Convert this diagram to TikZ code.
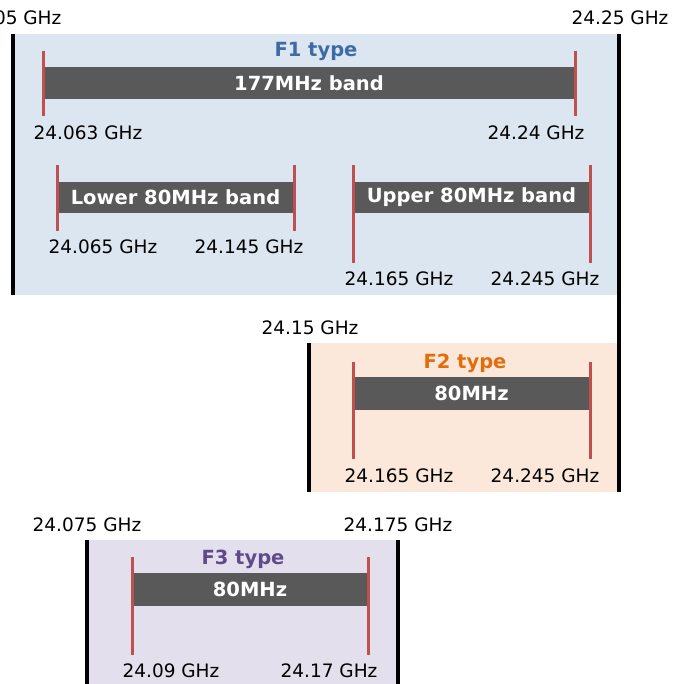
\documentclass[tikz,border=0pt]{standalone}
\usepackage{fontspec}
\setmainfont{DejaVu Sans}
\definecolor{fonebg}{HTML}{DCE6F0}
\definecolor{ftwobg}{HTML}{FCE8DB}
\definecolor{fthreebg}{HTML}{E4DFEC}
\definecolor{barcol}{HTML}{595959}
\definecolor{tickcol}{HTML}{C0504D}
\definecolor{foneti}{HTML}{3E6BA5}
\definecolor{ftwoti}{HTML}{E46C0A}
\definecolor{fthreeti}{HTML}{5F4B8B}
\begin{document}
\begin{tikzpicture}[x=1pt,y=-1pt,
  bandbar/.style={fill=barcol,text=white,inner sep=0pt,font=\fontsize{19.5}{22}\selectfont\bfseries},
  ticklin/.style={draw=tickcol,line width=3pt},
  edgelin/.style={draw=black,line width=3.5pt},
  flabel/.style={inner sep=0pt,font=\fontsize{18.5}{21}\selectfont},
  ftitle/.style={inner sep=0pt,font=\fontsize{19.5}{22}\selectfont\bfseries}]
\useasboundingbox (0,0) rectangle (689,684);
% backgrounds
\fill[fonebg] (13,34) rectangle (619,295);
\fill[ftwobg] (309,343) rectangle (619,492);
\fill[fthreebg] (87,540) rectangle (398,690);
% black edges
\coordinate (aTop) at (13,34);
\coordinate (aBot) at (13,295);
\coordinate (bTop) at (619,34);
\coordinate (bBot) at (619,492);
\coordinate (cTop) at (309,343);
\coordinate (cBot) at (309,492);
\coordinate (dTop) at (87,540);
\coordinate (dBot) at (87,690);
\coordinate (eTop) at (398,540);
\coordinate (eBot) at (398,690);
\draw[edgelin] (aTop) -- (aBot);
\draw[edgelin] (bTop) -- (bBot);
\draw[edgelin] (cTop) -- (cBot);
\draw[edgelin] (dTop) -- (dBot);
\draw[edgelin] (eTop) -- (eBot);
% edge labels
\node[flabel] (la) at (13,18) {24.05 GHz};
\node[flabel] (lb) at (620,18) {24.25 GHz};
\node[flabel] (lc) at (310,328) {24.15 GHz};
\node[flabel] (ld) at (87,525) {24.075 GHz};
\node[flabel] (le) at (398,525) {24.175 GHz};
% F1
\node[ftitle,text=foneti] (t1) at (316,51.5) {F1 type};
\node[bandbar,minimum width=532pt,minimum height=32pt] (b1) at (309,83) {177MHz band};
\draw[ticklin] (43,51) -- (43,116);
\draw[ticklin] (575,51) -- (575,116);
\node[flabel] (l1a) at (88,133) {24.063 GHz};
\node[flabel] (l1b) at (536,133) {24.24 GHz};
\node[bandbar,minimum width=236pt,minimum height=31pt] (b2) at (175.5,197.5) {Lower 80MHz band};
\draw[ticklin] (57,165) -- (57,231);
\draw[ticklin] (294,165) -- (294,231);
\node[flabel] (l2a) at (103,247) {24.065 GHz};
\node[flabel] (l2b) at (249,247) {24.145 GHz};
\node[bandbar,minimum width=236pt,minimum height=31pt] (b3) at (471.5,197.5) {Upper 80MHz band};
\draw[ticklin] (353,165) -- (353,263);
\draw[ticklin] (590,165) -- (590,263);
\node[flabel] (l3a) at (399,279) {24.165 GHz};
\node[flabel] (l3b) at (545,279) {24.245 GHz};
% F2
\node[ftitle,text=ftwoti] (t2) at (465,363.5) {F2 type};
\node[bandbar,minimum width=236pt,minimum height=33pt] (b4) at (471.5,393.5) {80MHz};
\draw[ticklin] (353,362) -- (353,459);
\draw[ticklin] (590,362) -- (590,459);
\node[flabel] (l4a) at (399,476) {24.165 GHz};
\node[flabel] (l4b) at (545,476) {24.245 GHz};
% F3
\node[ftitle,text=fthreeti] (t3) at (243,559.5) {F3 type};
\node[bandbar,minimum width=236pt,minimum height=33pt] (b5) at (250,589.5) {80MHz};
\draw[ticklin] (132,557) -- (132,655);
\draw[ticklin] (368,557) -- (368,655);
\node[flabel] (l5a) at (171,671) {24.09 GHz};
\node[flabel] (l5b) at (329,671) {24.17 GHz};
\end{tikzpicture}
\end{document}
